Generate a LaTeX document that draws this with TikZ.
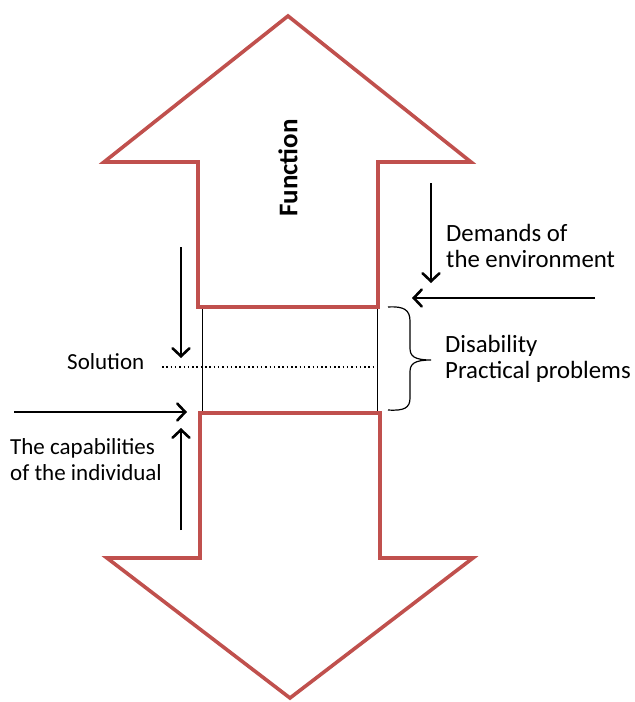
\documentclass[tikz,border=0pt]{standalone}
\usepackage{fontspec}
\setmainfont{Carlito}
\usetikzlibrary{arrows.meta}
\definecolor{arrowred}{RGB}{192,80,77}
\tikzset{
  bigarrow/.style={draw=arrowred, line width=3.6pt, line join=miter, fill=white},
  thinline/.style={draw=black, line width=0.9pt},
  pointer/.style={draw=black, line width=1.3pt,
    -{Straight Barb[length=8pt,width=17pt,line width=2.6pt,line cap=round]}},
  label/.style={font=\fontsize{23}{26}\selectfont, inner sep=0pt, align=left},
  biglabel/.style={font=\fontsize{24.8}{25.5}\selectfont, inner sep=0pt, align=left},
}
\begin{document}
\begin{tikzpicture}[x=1pt,y=-1pt]
  \useasboundingbox (0,0) rectangle (635,702);

  % upward block arrow (function)
  \draw[bigarrow] (198,307) -- (198,162) -- (104,162) -- (288,16)
    -- (471,162) -- (378,162) -- (378,307) -- cycle;
  % downward block arrow
  \draw[bigarrow] (200,413) -- (380,413) -- (380,558) -- (473,558)
    -- (290,698) -- (107,558) -- (200,558) -- cycle;

  \node[inner sep=0pt, font=\fontsize{27}{29}\bfseries, rotate=90] (func) at (288,168) {Function};

  % gap between the arrows
  \draw[thinline] (202,309) -- (202,411);
  \draw[thinline] (377,309) -- (377,411);
  \coordinate (dotL) at (162,367);
  \coordinate (dotR) at (373,367);
  \draw[line width=1.5pt, dash pattern=on 1.5pt off 2.8pt] (dotL) -- (dotR);

  % left side: solution and capabilities
  \node[label, anchor=base west] (sol) at (67,369) {Solution};
  \node[label, anchor=base west] (cap) at (10,480) {The capabilities\\of the individual};
  \coordinate (solTop) at (181,247);
  \coordinate (solTip) at (181,358);
  \draw[pointer] (solTop) -- (solTip);
  \coordinate (capL) at (14,412);
  \coordinate (capTip) at (187,412);
  \draw[pointer] (capL) -- (capTip);
  \coordinate (capBot) at (181,530);
  \coordinate (capUp) at (181,428);
  \draw[pointer] (capBot) -- (capUp);

  % right side: environment demands
  \node[biglabel, anchor=base west] (dem) at (446,267) {Demands of\\the environment};
  \coordinate (demTop) at (431,183);
  \coordinate (demTip) at (431,283);
  \draw[pointer] (demTop) -- (demTip);
  \coordinate (envR) at (595,298);
  \coordinate (envTip) at (412,298);
  \draw[pointer] (envR) -- (envTip);

  % brace and disability label
  \draw[line width=1.2pt] (388,307) .. controls (404,306) and (410,310) .. (410,321)
    -- (410,348) .. controls (410,356) and (414,360) .. (431,360)
    .. controls (414,360) and (410,364) .. (410,372)
    -- (410,398) .. controls (410,408) and (404,411) .. (388,410);
  \node[biglabel, anchor=base west] (dis) at (445,378) {Disability\\Practical problems};
\end{tikzpicture}
\end{document}
